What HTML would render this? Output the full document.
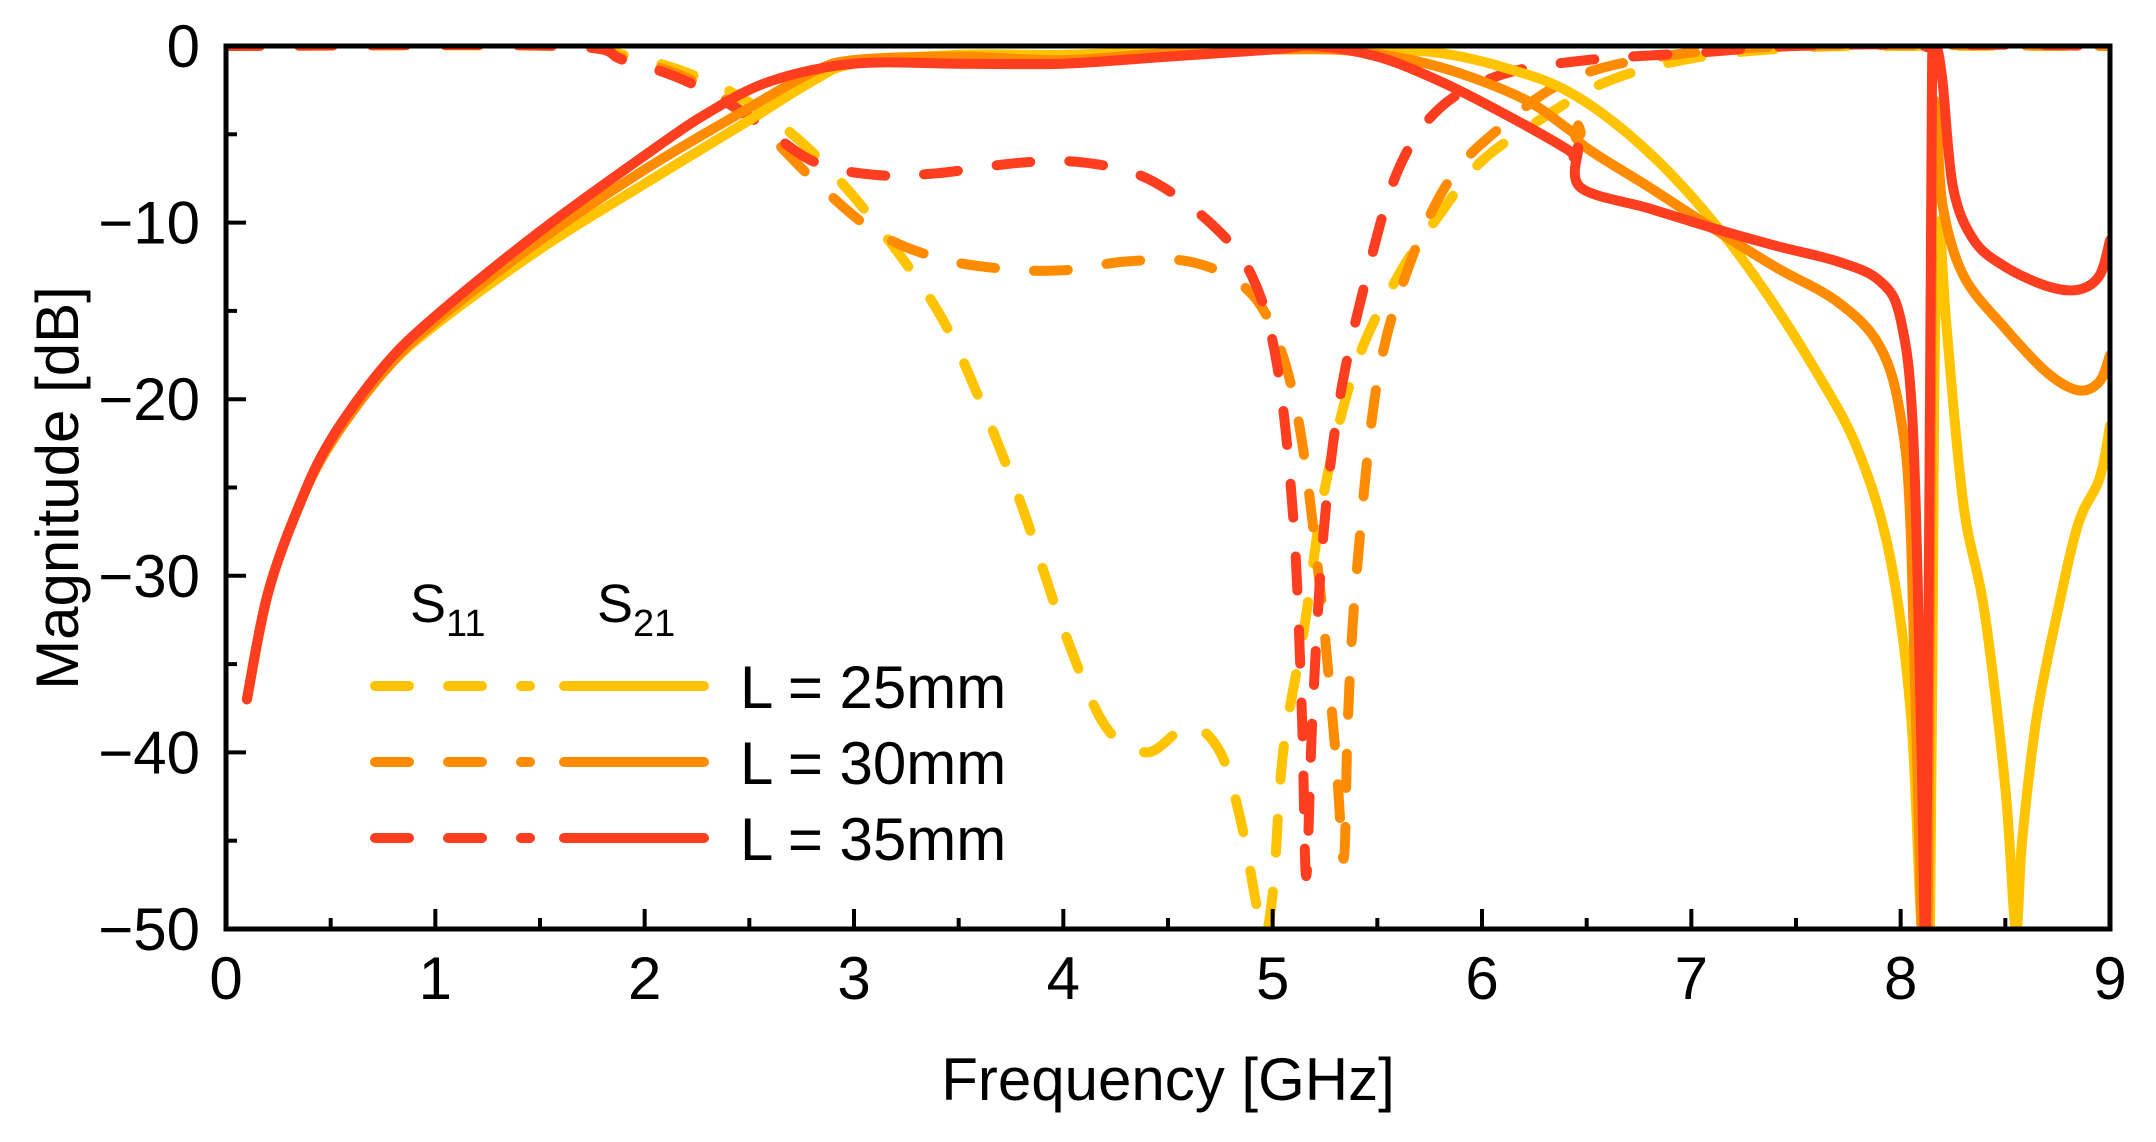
<!DOCTYPE html>
<html><head><meta charset="utf-8"><style>
html,body{margin:0;padding:0;background:#fff;}
svg{display:block;font-family:"Liberation Sans",Arial,sans-serif;}
</style></head><body>
<svg id="chart" width="2156" height="1142" viewBox="0 0 2156 1142" xmlns="http://www.w3.org/2000/svg">
<defs><clipPath id="clip"><rect x="226" y="46" width="1884" height="883"/></clipPath></defs>
<g id="series" clip-path="url(#clip)"></g>
<g id="axes"></g>
<g id="legend">
  <text x="410" y="622" font-size="54">S<tspan font-size="38" dy="14">11</tspan></text>
  <text x="597" y="622" font-size="54">S<tspan font-size="38" dy="14">21</tspan></text>
</g>
<text x="1168" y="1100" font-size="60" text-anchor="middle">Frequency [GHz]</text>
<text transform="translate(78,488) rotate(-90)" font-size="60" text-anchor="middle">Magnitude [dB]</text>
</svg>
<script>
const xTicks=[0,1,2,3,4,5,6,7,8,9];
const yTicks=[0,-10,-20,-30,-40,-50];
const lengths=["L = 25mm","L = 30mm","L = 35mm"];
const colors=["#FFC300","#FF8C00","#FF3D1F"];
const s21_25=[[0.1,-37],[0.2,-31],[0.35,-26],[0.5,-22.5],[0.75,-18.5],[1,-15.8],[1.5,-11.5],[2,-7.8],[2.5,-4.2],[2.8,-2],[3,-1],[3.5,-0.5],[4,-0.5],[4.5,-0.3],[5,-0.2],[5.5,-0.2],[5.8,-0.4],[6.1,-1.2],[6.4,-2.5],[6.7,-5],[7,-8.5],[7.3,-13],[7.6,-18.5],[7.8,-23],[7.95,-29],[8.05,-38],[8.1,-50],[8.14,-50],[8.16,-20],[8.18,-10],[8.22,-16],[8.3,-26],[8.4,-32],[8.5,-42],[8.55,-50],[8.58,-45],[8.65,-38],[8.75,-32],[8.85,-27],[8.95,-24.5],[9,-21.5]];
const s21_30=[[0.1,-37],[0.2,-31],[0.35,-26],[0.5,-22.5],[0.75,-18.5],[1,-15.6],[1.5,-11],[2,-7],[2.5,-3.5],[2.8,-1.5],[3,-0.8],[3.5,-0.6],[4,-0.8],[4.5,-0.4],[5,-0.2],[5.4,-0.3],[5.8,-1.2],[6.2,-3],[6.45,-5],[6.46,-4.5],[6.47,-5.5],[6.8,-8],[7.1,-10.3],[7.4,-12.5],[7.7,-14.5],[7.9,-17],[8.0,-21],[8.05,-28],[8.1,-50],[8.13,-50],[8.15,-8],[8.17,-4],[8.2,-9],[8.3,-13],[8.5,-16],[8.7,-18.5],[8.85,-19.5],[8.95,-19],[9,-17.5]];
const s21_35=[[0.1,-37],[0.2,-31],[0.35,-26],[0.5,-22.3],[0.75,-18.2],[1,-15.3],[1.5,-10.5],[2,-6.2],[2.3,-3.8],[2.6,-2],[3,-1],[3.5,-1],[4,-1],[4.5,-0.6],[5,-0.2],[5.2,0],[5.5,-0.6],[5.8,-2],[6.1,-3.8],[6.4,-5.8],[6.44,-6.3],[6.46,-5.8],[6.47,-8],[6.8,-9.2],[7.1,-10.3],[7.4,-11.3],[7.7,-12.2],[7.9,-13.3],[8.0,-15.5],[8.06,-22],[8.1,-40],[8.12,-50],[8.14,-20],[8.15,-1],[8.17,0],[8.2,-2],[8.25,-8],[8.35,-11],[8.5,-12.5],[8.7,-13.6],[8.85,-13.8],[8.95,-13],[9,-11]];
const s11_25=[[0,0],[1.6,0],[1.9,-0.5],[2.2,-1.5],[2.5,-3.2],[2.8,-6],[3.1,-10],[3.4,-15],[3.6,-20],[3.8,-26],[4.0,-33],[4.2,-38.5],[4.4,-40],[4.6,-38.5],[4.75,-40],[4.85,-44],[4.95,-50],[5.0,-48],[5.05,-40],[5.15,-33],[5.25,-25],[5.4,-18],[5.6,-13],[5.8,-9.5],[6.0,-6.5],[6.3,-4],[6.6,-2],[7,-0.7],[7.5,-0.1],[8,0],[9,0]];
const s11_30=[[0,0],[1.6,0],[1.9,-0.7],[2.2,-1.8],[2.5,-4],[2.8,-7.5],[3.1,-10.5],[3.4,-12],[3.7,-12.6],[4.0,-12.7],[4.3,-12.2],[4.6,-12.2],[4.85,-13.5],[5.0,-16],[5.12,-21],[5.22,-30],[5.3,-40],[5.34,-46],[5.36,-38],[5.4,-30],[5.5,-19],[5.65,-12.5],[5.85,-7.5],[6.1,-4.5],[6.4,-2],[6.8,-0.7],[7.5,0],[9,0]];
const s11_35=[[0,0],[1.6,0],[1.9,-0.8],[2.2,-2],[2.5,-4],[2.8,-6.5],[3.1,-7.3],[3.4,-7.2],[3.8,-6.6],[4.1,-6.6],[4.4,-7.5],[4.7,-10],[4.9,-13],[5.02,-18],[5.1,-27],[5.14,-38],[5.16,-47],[5.19,-38],[5.24,-28],[5.32,-20],[5.45,-13],[5.6,-7],[5.8,-3.5],[6.1,-1.6],[6.5,-0.8],[7,-0.4],[7.5,0],[8.1,0],[8.16,-1],[8.25,0],[9,0]];
const s21Series=[s21_25,s21_30,s21_35];
const s11Series=[s11_25,s11_30,s11_35];
const NS="http://www.w3.org/2000/svg";
const X0=226,X1=2110,Y0=46,Y1=929;
function xs(f){return X0+(f-0)/(9-0)*(X1-X0);}
function ys(d){return Y0+(0-d)/(0-(-50))*(Y1-Y0);}
function mk(t,a){const e=document.createElementNS(NS,t);for(const k in a)e.setAttribute(k,a[k]);return e;}
function smoothPath(data){
  const p=data.map(q=>[xs(q[0]),ys(q[1])]);
  let d='M'+p[0][0].toFixed(1)+' '+p[0][1].toFixed(1);
  for(let i=0;i<p.length-1;i++){
    const p0=p[Math.max(0,i-1)],p1=p[i],p2=p[i+1],p3=p[Math.min(p.length-1,i+2)];
    const c1=[p1[0]+(p2[0]-p0[0])/6,p1[1]+(p2[1]-p0[1])/6];
    const c2=[p2[0]-(p3[0]-p1[0])/6,p2[1]-(p3[1]-p1[1])/6];
    d+=' C'+c1[0].toFixed(1)+' '+c1[1].toFixed(1)+' '+c2[0].toFixed(1)+' '+c2[1].toFixed(1)+' '+p2[0].toFixed(1)+' '+p2[1].toFixed(1);
  }
  return d;
}
const series=document.getElementById('series');
function draw(data,color,dash,name){
  const p=mk('path',{d:smoothPath(data),fill:'none',stroke:color,'stroke-width':10,'stroke-linejoin':'round','stroke-linecap':'round'});
  if(dash)p.setAttribute('stroke-dasharray','34 39');
  
  
  series.appendChild(p);
}
const lnames=['25mm','30mm','35mm'];
for(let i=0;i<3;i++)draw(s11Series[i],colors[i],true,'s11-line-'+lnames[i]);
for(let i=0;i<3;i++)draw(s21Series[i],colors[i],false,'s21-line-'+lnames[i]);
const axes=document.getElementById('axes');
const frame=mk('rect',{x:X0,y:Y0,width:X1-X0,height:Y1-Y0,fill:'none',stroke:'#000','stroke-width':5});


axes.appendChild(frame);
xTicks.forEach((t,i)=>{
  const x=xs(t);
  axes.appendChild(mk('line',{x1:x,x2:x,y1:Y1,y2:Y1-20,stroke:'#000','stroke-width':4}));
  if(i<xTicks.length-1){const xm=xs(t+0.5);axes.appendChild(mk('line',{x1:xm,x2:xm,y1:Y1,y2:Y1-11,stroke:'#000','stroke-width':4}));}
  const tx=mk('text',{x:x,y:Y1+70,'font-size':60,'text-anchor':'middle'});
  tx.textContent=t;
  
  
  axes.appendChild(tx);
});
yTicks.forEach((t,i)=>{
  const y=ys(t);
  axes.appendChild(mk('line',{x1:X0,x2:X0+20,y1:y,y2:y,stroke:'#000','stroke-width':4}));
  if(i<yTicks.length-1){const ym=ys(t-5);axes.appendChild(mk('line',{x1:X0,x2:X0+11,y1:ym,y2:ym,stroke:'#000','stroke-width':4}));}
  const tx=mk('text',{x:X0-26,y:y+21,'font-size':60,'text-anchor':'end'});
  tx.textContent=t<0?'\u2212'+(-t):t;
  
  
  axes.appendChild(tx);
});
const legend=document.getElementById('legend');
const rowY=[686,762,838];
for(let i=0;i<3;i++){
  const d=mk('line',{x1:375,x2:530,y1:rowY[i],y2:rowY[i],stroke:colors[i],'stroke-width':10,'stroke-linecap':'round','stroke-dasharray':'34 39'});
  
  
  legend.appendChild(d);
  const s=mk('line',{x1:564,x2:704,y1:rowY[i],y2:rowY[i],stroke:colors[i],'stroke-width':10,'stroke-linecap':'round'});
  
  
  legend.appendChild(s);
  const t=mk('text',{x:740,y:rowY[i]+22,'font-size':60});
  t.textContent=lengths[i];
  
  
  legend.appendChild(t);
}
</script>
</body></html>
